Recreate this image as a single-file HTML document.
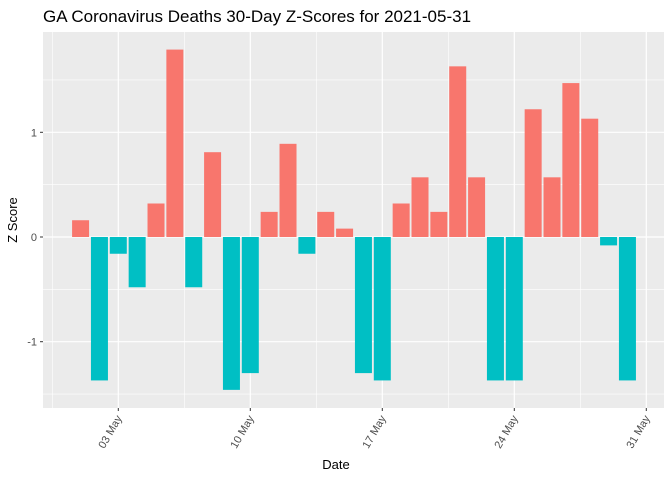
<!DOCTYPE html>
<html><head><meta charset="utf-8"><style>
body{margin:0;background:#fff;font-family:"Liberation Sans",Arial,sans-serif}
</style></head><body>
<svg id="c" width="672" height="480" xmlns="http://www.w3.org/2000/svg">
<rect width="672" height="480" fill="#fff"/>
<text x="43" y="22" font-size="17" fill="#000">GA Coronavirus Deaths 30-Day Z-Scores for 2021-05-31</text>
<rect id="panel" x="43" y="32" width="621" height="376" fill="#EBEBEB"/>
<g id="grid"></g><g id="bars"></g><g id="axes"></g>
<text x="336" y="469" font-size="13" text-anchor="middle" fill="#000">Date</text>
<text transform="translate(17,220) rotate(-90)" font-size="13" text-anchor="middle" fill="#000">Z Score</text>
</svg>
<script>
const days=[1,2,3,4,5,6,7,8,9,10,11,12,13,14,15,16,17,18,19,20,21,22,23,24,25,26,27,28,29,30];
const zscores=[0.16,-1.37,-0.16,-0.48,0.32,1.79,-0.48,0.81,-1.46,-1.3,0.24,0.89,-0.16,0.24,0.08,-1.3,-1.37,0.32,0.57,0.24,1.63,0.57,-1.37,-1.37,1.22,0.57,1.47,1.13,-0.08,-1.37];
const xTickDays=[3,10,17,24,31];
const xTickLabels=["03 May","10 May","17 May","24 May","31 May"];
const yTicks=[-1,0,1];
const yMinor=[-1.5,-0.5,0.5,1.5];
const ns="http://www.w3.org/2000/svg";
const X=d=>118.3+(d-3)*18.857;
const Y=v=>237-v*104.7;
const L=43,R=664,T=32,B=408;
function mk(tag,at,par){const e=document.createElementNS(ns,tag);for(const k in at)e.setAttribute(k,at[k]);document.getElementById(par).appendChild(e);return e;}
yMinor.forEach(v=>{const e=mk('line',{x1:L,x2:R,y1:Y(v),y2:Y(v),stroke:'#fff','stroke-width':0.6},'grid');

});
xTickDays.forEach(d=>{const m=d-3.5;if(X(m)>L){const e=mk('line',{x1:X(m),x2:X(m),y1:T,y2:B,stroke:'#fff','stroke-width':0.6},'grid');

}});
yTicks.forEach(v=>{const e=mk('line',{x1:L,x2:R,y1:Y(v),y2:Y(v),stroke:'#fff','stroke-width':1.2},'grid');


const t=mk('text',{x:L-6,y:Y(v)+4,'font-size':11,'text-anchor':'end',fill:'#4D4D4D'},'axes');t.textContent=v;


mk('line',{x1:L-3,x2:L,y1:Y(v),y2:Y(v),stroke:'#333'},'axes');});
xTickDays.forEach((d,i)=>{const e=mk('line',{x1:X(d),x2:X(d),y1:T,y2:B,stroke:'#fff','stroke-width':1.2},'grid');


mk('line',{x1:X(d),x2:X(d),y1:B,y2:B+3,stroke:'#333'},'axes');
const t=mk('text',{transform:`translate(${X(d)+4},${B+10}) rotate(-60)`,'font-size':11,'text-anchor':'end',fill:'#4D4D4D'},'axes');t.textContent=xTickLabels[i];

});
days.forEach((d,i)=>{const v=zscores[i];const w=17;const y0=Y(0),y1=Y(v);
const e=mk('rect',{x:X(d)-w/2,y:Math.min(y0,y1),width:w,height:Math.abs(y1-y0),fill:v>=0?'#F8766D':'#00BFC4'},'bars');

});
</script>
</body></html>
